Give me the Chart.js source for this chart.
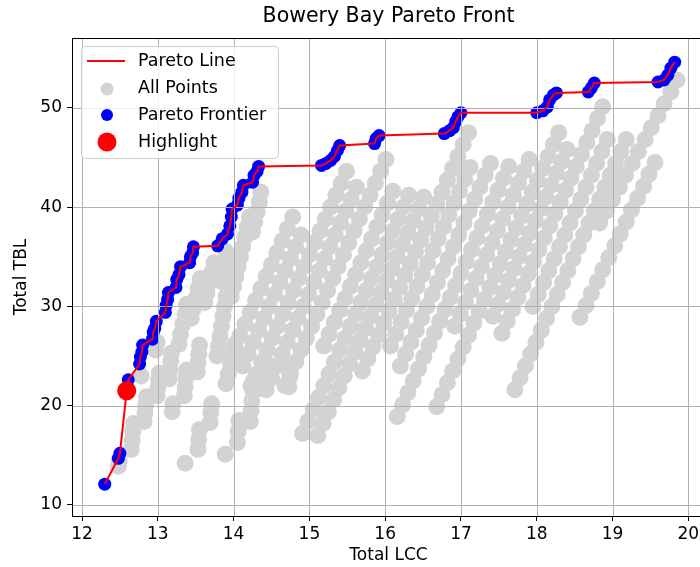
<!DOCTYPE html>
<html>
<head>
<meta charset="utf-8">
<script src="https://cdn.jsdelivr.net/npm/chart.js@4.4.1/dist/chart.umd.min.js"></script>
<style>
    html, body { margin: 0; padding: 0; background: #fff; overflow: hidden; }
    #contenedor { width: 700px; height: 567px; overflow: hidden; }
</style>
</head>
<body>
<div id="contenedor"><canvas id="graficoPareto" width="720" height="567"></canvas></div>
<script>
// Marcas de los ejes
const ticksX = [12, 13, 14, 15, 16, 17, 18, 19, 20];
const ticksY = [10, 20, 30, 40, 50];

// Frente de Pareto (ordenado por LCC)
const puntosPareto = [
    [12.30, 12.1], [12.48, 14.7], [12.50, 15.2], [12.59, 21.5], [12.61, 22.6],
    [12.76, 24.2], [12.77, 24.9], [12.79, 25.4], [12.80, 26.1],
    [12.93, 26.7], [12.94, 27.4], [12.96, 27.8], [12.98, 28.5],
    [13.10, 29.4], [13.11, 30.1], [13.13, 30.7], [13.14, 31.4],
    [13.24, 31.9], [13.25, 32.7], [13.28, 33.2], [13.30, 34.0],
    [13.42, 34.4], [13.43, 35.0], [13.46, 35.4], [13.47, 36.0],
    [13.79, 36.1], [13.85, 36.8], [13.92, 37.3], [13.95, 38.1], [13.97, 39.0], [13.98, 39.8],
    [14.05, 40.2], [14.07, 40.9], [14.11, 41.5], [14.13, 42.2],
    [14.25, 42.5], [14.27, 43.2], [14.31, 43.6], [14.33, 44.1],
    [15.16, 44.2], [15.22, 44.4], [15.28, 44.7], [15.33, 45.1], [15.37, 45.7], [15.40, 46.2],
    [15.86, 46.4], [15.88, 46.9], [15.92, 47.2],
    [16.78, 47.4], [16.85, 47.7], [16.90, 48.0], [16.93, 48.6], [16.96, 49.1], [17.00, 49.5],
    [18.00, 49.5], [18.08, 49.7], [18.14, 50.1], [18.17, 50.8], [18.22, 51.3], [18.26, 51.5],
    [18.68, 51.6], [18.72, 52.0], [18.76, 52.5],
    [19.60, 52.6], [19.68, 52.8], [19.73, 53.3], [19.77, 54.0], [19.82, 54.6]
];

const puntoDestacado = [[12.59, 21.5]];

// Todos los puntos (gris), zona izquierda
const grisIzquierda = [
    [12.48, 13.9], [12.49, 14.5],
    [12.65, 15.6], [12.66, 16.5], [12.67, 17.4], [12.68, 18.2],
    [12.82, 18.4], [12.83, 19.3], [12.84, 20.1], [12.85, 20.9],
    [12.78, 23.0], [12.97, 25.6], [12.99, 26.4],
    [12.99, 21.0], [13.00, 21.8], [13.01, 22.6], [13.02, 23.3],
    [13.15, 22.7], [13.16, 23.6], [13.17, 24.5], [13.18, 25.3],
    [13.19, 19.4], [13.20, 20.2],
    [13.35, 21.0], [13.36, 21.9], [13.37, 22.8], [13.38, 23.6],
    [13.36, 14.2],
    [13.52, 23.4], [13.53, 24.3], [13.54, 25.2], [13.55, 26.1],
    [13.53, 15.6], [13.54, 16.6], [13.55, 17.6],
    [13.69, 18.3], [13.70, 19.3], [13.71, 20.2],
    [13.89, 15.1],
    [14.05, 16.3], [14.06, 17.4], [14.07, 18.5],
    [14.22, 18.4], [14.23, 19.5], [14.24, 20.5], [14.25, 21.6], [14.26, 22.5],
    [14.38, 21.7], [14.39, 22.7], [14.40, 23.7], [14.41, 24.6],
    [14.73, 21.9], [14.74, 22.9], [14.75, 23.9],
    [13.90, 22.2], [13.93, 23.2], [13.96, 24.2], [13.99, 25.2], [14.02, 26.2],
    [13.28, 26.2], [13.30, 27.2], [13.33, 28.2], [13.36, 29.2], [13.38, 30.2],
    [13.44, 28.8], [13.47, 29.8], [13.50, 30.8], [13.53, 31.8], [13.56, 32.8],
    [13.62, 30.4], [13.65, 31.4], [13.68, 32.4], [13.71, 33.4], [13.74, 34.4],
    [13.78, 25.0], [13.80, 26.0], [13.82, 27.0], [13.84, 28.0], [13.86, 29.0],
    [13.88, 30.0], [13.90, 31.0], [13.92, 32.0], [13.94, 33.0],
    [13.84, 32.5], [13.86, 33.5], [13.88, 34.5], [13.90, 35.5],
    [13.97, 31.0], [14.00, 32.0], [14.03, 33.0], [14.06, 34.0], [14.09, 35.0],
    [14.12, 36.0], [14.15, 37.0], [14.18, 38.0], [14.21, 39.0],
    [14.25, 37.5], [14.28, 38.5], [14.31, 39.5], [14.34, 40.5], [14.36, 41.5]
];

// Zona central
const grisCentro = [
    [14.08, 27.0], [14.15, 28.2], [14.22, 29.4], [14.29, 30.6], [14.36, 31.8], [14.43, 33.0],
    [14.50, 34.2], [14.57, 35.4], [14.64, 36.6], [14.71, 37.8], [14.78, 39.0],
    [14.12, 24.0], [14.19, 25.2], [14.26, 26.4], [14.33, 27.6], [14.40, 28.8], [14.47, 30.0],
    [14.54, 31.2], [14.61, 32.4], [14.68, 33.6], [14.75, 34.8], [14.82, 36.0], [14.89, 37.2],
    [14.23, 22.0], [14.30, 23.2], [14.37, 24.4], [14.44, 25.6], [14.51, 26.8], [14.58, 28.0],
    [14.65, 29.2], [14.72, 30.4], [14.79, 31.6], [14.86, 32.8], [14.93, 34.0], [15.00, 35.2],
    [15.07, 36.4], [15.14, 37.6], [15.21, 38.8], [15.28, 40.0], [15.35, 41.2], [15.42, 42.4], [15.49, 43.6],
    [14.43, 21.6], [14.50, 22.8], [14.57, 24.0], [14.64, 25.2], [14.71, 26.4], [14.78, 27.6],
    [14.85, 28.8], [14.92, 30.0], [14.99, 31.2], [15.06, 32.4], [15.13, 33.6], [15.20, 34.8],
    [15.27, 36.0], [15.34, 37.2], [15.41, 38.4], [15.48, 39.6], [15.55, 40.8], [15.62, 42.0],
    [14.68, 22.0], [14.75, 23.2], [14.82, 24.4], [14.89, 25.6], [14.96, 26.8], [15.03, 28.0],
    [15.10, 29.2], [15.17, 30.4], [15.24, 31.6], [15.31, 32.8], [15.38, 34.0], [15.45, 35.2],
    [15.52, 36.4], [15.59, 37.6], [15.66, 38.8], [15.73, 40.0], [15.80, 41.2], [15.87, 42.4],
    [15.94, 43.6], [16.01, 44.8],
    [15.19, 26.0], [15.26, 27.2], [15.33, 28.4], [15.40, 29.6], [15.47, 30.8], [15.54, 32.0],
    [15.61, 33.2], [15.68, 34.4], [15.75, 35.6], [15.82, 36.8], [15.89, 38.0], [15.96, 39.2],
    [16.03, 40.4], [16.10, 41.6],
    [14.91, 17.2], [14.98, 18.4], [15.05, 19.6], [15.12, 20.8], [15.19, 22.0], [15.26, 23.2],
    [15.33, 24.4], [15.40, 25.6], [15.47, 26.8], [15.54, 28.0], [15.61, 29.2], [15.68, 30.4],
    [15.75, 31.6], [15.82, 32.8], [15.89, 34.0], [15.96, 35.2], [16.03, 36.4], [16.10, 37.6],
    [16.17, 38.8], [16.24, 40.0], [16.31, 41.2],
    [15.11, 17.0], [15.18, 18.2], [15.25, 19.4], [15.32, 20.6], [15.39, 21.8], [15.46, 23.0],
    [15.53, 24.2], [15.60, 25.4], [15.67, 26.6], [15.74, 27.8], [15.81, 29.0], [15.88, 30.2],
    [15.95, 31.4], [16.02, 32.6], [16.09, 33.8], [16.16, 35.0], [16.23, 36.2], [16.30, 37.4],
    [16.37, 38.6], [16.44, 39.8], [16.51, 41.0]
];

// Zona derecha
const grisDerecha = [
    [15.70, 23.5], [15.77, 24.7], [15.84, 25.9], [15.91, 27.1], [15.98, 28.3], [16.05, 29.5],
    [16.12, 30.7], [16.19, 31.9], [16.26, 33.1], [16.33, 34.3], [16.40, 35.5], [16.47, 36.7],
    [16.54, 37.9], [16.61, 39.1], [16.68, 40.3], [16.75, 41.5], [16.82, 42.7], [16.89, 43.9],
    [16.96, 45.1], [17.03, 46.3], [17.10, 47.5],
    [16.07, 26.0], [16.14, 27.2], [16.21, 28.4], [16.28, 29.6], [16.35, 30.8], [16.42, 32.0],
    [16.49, 33.2], [16.56, 34.4], [16.63, 35.6], [16.70, 36.8], [16.77, 38.0], [16.84, 39.2],
    [16.91, 40.4], [16.98, 41.6], [17.05, 42.8], [17.12, 44.0],
    [16.20, 24.0], [16.27, 25.2], [16.34, 26.4], [16.41, 27.6], [16.48, 28.8], [16.55, 30.0],
    [16.62, 31.2], [16.69, 32.4], [16.76, 33.6], [16.83, 34.8], [16.90, 36.0], [16.97, 37.2],
    [17.04, 38.4], [17.11, 39.6], [17.18, 40.8], [17.25, 42.0], [17.32, 43.2], [17.39, 44.4],
    [16.16, 18.9], [16.23, 20.1], [16.30, 21.3], [16.37, 22.5], [16.44, 23.7], [16.51, 24.9],
    [16.58, 26.1], [16.65, 27.3], [16.72, 28.5], [16.79, 29.7], [16.86, 30.9], [16.93, 32.1],
    [17.00, 33.3], [17.07, 34.5], [17.14, 35.7], [17.21, 36.9], [17.28, 38.1], [17.35, 39.3],
    [17.42, 40.5], [17.49, 41.7], [17.56, 42.9], [17.63, 44.1],
    [16.92, 28.0], [16.99, 29.2], [17.06, 30.4], [17.13, 31.6], [17.20, 32.8], [17.27, 34.0],
    [17.34, 35.2], [17.41, 36.4], [17.48, 37.6], [17.55, 38.8], [17.62, 40.0], [17.69, 41.2],
    [17.76, 42.4], [17.83, 43.6], [17.90, 44.8],
    [16.68, 19.9], [16.75, 21.1], [16.82, 22.3], [16.89, 23.5], [16.96, 24.7], [17.03, 25.9],
    [17.10, 27.1], [17.17, 28.3], [17.24, 29.5], [17.31, 30.7], [17.38, 31.9], [17.45, 33.1],
    [17.52, 34.3], [17.59, 35.5], [17.66, 36.7], [17.73, 37.9], [17.80, 39.1], [17.87, 40.3],
    [17.94, 41.5], [18.01, 42.7], [18.08, 43.9], [18.15, 45.1], [18.22, 46.3], [18.29, 47.5],
    [17.42, 29.0], [17.49, 30.2], [17.56, 31.4], [17.63, 32.6], [17.70, 33.8], [17.77, 35.0],
    [17.84, 36.2], [17.91, 37.4], [17.98, 38.6], [18.05, 39.8], [18.12, 41.0], [18.19, 42.2],
    [18.26, 43.4], [18.33, 44.6], [18.40, 45.8],
    [17.54, 27.3], [17.61, 28.5], [17.68, 29.7], [17.75, 30.9], [17.82, 32.1], [17.89, 33.3],
    [17.96, 34.5], [18.03, 35.7], [18.10, 36.9], [18.17, 38.1], [18.24, 39.3], [18.31, 40.5],
    [18.38, 41.7], [18.45, 42.9], [18.52, 44.1], [18.59, 45.3], [18.66, 46.5], [18.73, 47.7],
    [18.80, 48.9], [18.87, 50.1],
    [17.95, 30.0], [18.02, 31.2], [18.09, 32.4], [18.16, 33.6], [18.23, 34.8], [18.30, 36.0],
    [18.37, 37.2], [18.44, 38.4], [18.51, 39.6], [18.58, 40.8], [18.65, 42.0], [18.72, 43.2],
    [18.79, 44.4], [18.86, 45.6], [18.93, 46.8],
    [17.71, 21.6], [17.78, 22.8], [17.85, 24.0], [17.92, 25.2], [17.99, 26.4], [18.06, 27.6],
    [18.13, 28.8], [18.20, 30.0], [18.27, 31.2], [18.34, 32.4], [18.41, 33.6], [18.48, 34.8],
    [18.55, 36.0], [18.62, 37.2], [18.69, 38.4], [18.76, 39.6], [18.83, 40.8], [18.90, 42.0],
    [18.97, 43.2], [19.04, 44.4], [19.11, 45.6], [19.18, 46.8],
    [18.57, 28.9], [18.65, 30.1], [18.72, 31.3], [18.80, 32.5], [18.87, 33.7], [18.95, 34.9],
    [19.03, 36.1], [19.10, 37.3], [19.18, 38.5], [19.25, 39.7], [19.33, 40.9], [19.41, 42.1],
    [19.48, 43.3], [19.56, 44.5],
    [18.83, 38.4], [18.92, 39.6], [19.00, 40.8], [19.09, 42.0], [19.17, 43.2], [19.26, 44.4],
    [19.34, 45.6], [19.43, 46.8], [19.51, 48.0], [19.60, 49.2], [19.68, 50.4], [19.77, 51.6],
    [19.85, 52.8]
];

const aXY = arr => arr.map(p => ({ x: p[0], y: p[1] }));
const todosLosPuntos = aXY(grisIzquierda.concat(grisCentro, grisDerecha));

const fuente = { family: '"DejaVu Sans", sans-serif', size: 17 };

// Rejilla encima de los puntos, debajo de la linea (como matplotlib), mas titulo, marco y leyenda
const decoracion = {
    id: 'decoracion',
    afterDatasetDraw(chart, args) {
        if (args.index !== 2) return;
        const { ctx, chartArea: a, scales } = chart;
        ctx.save();
        ctx.strokeStyle = '#b0b0b0';
        ctx.lineWidth = 1;
        ctx.beginPath();
        ticksX.forEach(v => {
            const px = Math.round(scales.x.getPixelForValue(v)) + 0.5;
            ctx.moveTo(px, a.top); ctx.lineTo(px, a.bottom);
        });
        ticksY.forEach(v => {
            const py = Math.round(scales.y.getPixelForValue(v)) + 0.5;
            ctx.moveTo(a.left, py); ctx.lineTo(a.right, py);
        });
        ctx.stroke();
        ctx.restore();
    },
    afterDraw(chart) {
        const { ctx, chartArea: a } = chart;
        ctx.save();
        // marco
        ctx.strokeStyle = '#000';
        ctx.lineWidth = 1;
        ctx.strokeRect(a.left + 0.5, a.top + 0.5, a.right - a.left, a.bottom - a.top);

        // titulo
        ctx.fillStyle = '#000';
        ctx.font = '20.5px "DejaVu Sans", sans-serif';
        ctx.textAlign = 'center';
        ctx.textBaseline = 'middle';
        ctx.fillText('Bowery Bay Pareto Front', (a.left + a.right) / 2, 17);

        // leyenda
        const bx = 81, by = 46, bw = 197, bh = 112;
        ctx.beginPath();
        ctx.roundRect(bx + 0.5, by + 0.5, bw, bh, 4);
        ctx.fillStyle = 'rgba(255,255,255,0.8)';
        ctx.fill();
        ctx.strokeStyle = '#cccccc';
        ctx.stroke();

        ctx.strokeStyle = '#ff0000';
        ctx.lineWidth = 2;
        ctx.beginPath();
        ctx.moveTo(87, 61); ctx.lineTo(125, 61);
        ctx.stroke();

        const circulo = (x, y, r, color) => {
            ctx.beginPath();
            ctx.arc(x, y, r, 0, Math.PI * 2);
            ctx.fillStyle = color;
            ctx.fill();
        };
        circulo(107, 89, 6.5, '#d3d3d3');
        circulo(107, 115, 6, '#0000ff');
        circulo(107, 142, 9.5, '#ff0000');

        ctx.fillStyle = '#000';
        ctx.font = '17.5px "DejaVu Sans", sans-serif';
        ctx.textAlign = 'left';
        ctx.fillText('Pareto Line', 138, 61);
        ctx.fillText('All Points', 138, 88);
        ctx.fillText('Pareto Frontier', 138, 115);
        ctx.fillText('Highlight', 138, 142);
        ctx.restore();
    }
};

new Chart(document.getElementById('graficoPareto'), {
    type: 'scatter',
    data: {
        datasets: [
            {
                label: 'Pareto Line',
                data: aXY(puntosPareto),
                showLine: true,
                borderColor: '#ff0000',
                borderWidth: 2,
                pointRadius: 0,
                tension: 0,
                order: 2
            },
            {
                label: 'All Points',
                data: todosLosPuntos,
                backgroundColor: '#d3d3d3',
                borderWidth: 0,
                pointRadius: 8.5,
                order: 4
            },
            {
                label: 'Pareto Frontier',
                data: aXY(puntosPareto),
                backgroundColor: '#0000ff',
                borderWidth: 0,
                pointRadius: 6.5,
                order: 3
            },
            {
                label: 'Highlight',
                data: aXY(puntoDestacado),
                backgroundColor: '#ff0000',
                borderWidth: 0,
                pointRadius: 9.5,
                order: 1
            }
        ]
    },
    options: {
        responsive: false,
        animation: false,
        devicePixelRatio: 1,
        events: [],
        layout: { padding: { top: 38, right: 15, left: 0, bottom: 0 } },
        plugins: {
            legend: { display: false },
            tooltip: { enabled: false },
            title: { display: false }
        },
        scales: {
            x: {
                type: 'linear',
                min: 11.868,
                max: 20.22,
                afterBuildTicks: eje => { eje.ticks = ticksX.map(v => ({ value: v })); },
                afterFit: eje => { eje.height = 51; },
                grid: { drawOnChartArea: false, drawTicks: true, tickLength: 5, tickColor: '#000' },
                border: { display: false },
                ticks: { font: fuente, color: '#000', padding: 3, maxRotation: 0 },
                title: { display: true, text: 'Total LCC', font: fuente, color: '#000', padding: { top: 2, bottom: 1 } }
            },
            y: {
                type: 'linear',
                min: 8.89,
                max: 57.03,
                afterBuildTicks: eje => { eje.ticks = ticksY.map(v => ({ value: v })); },
                afterFit: eje => { eje.width = 72; },
                grid: { drawOnChartArea: false, drawTicks: true, tickLength: 5, tickColor: '#000' },
                border: { display: false },
                ticks: { font: fuente, color: '#000', padding: 5 },
                title: { display: true, text: 'Total TBL', font: fuente, color: '#000', padding: { top: 11, bottom: 0 } }
            }
        }
    },
    plugins: [decoracion]
});
</script>
</body>
</html>
